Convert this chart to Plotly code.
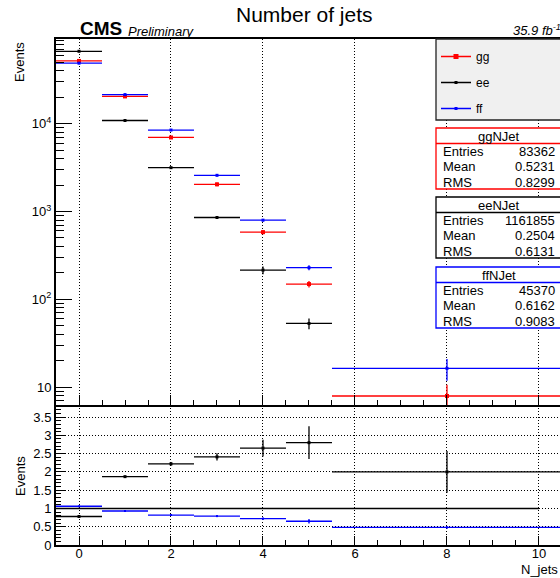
import plotly.graph_objects as go

# ---------------- data ----------------
centers = [0, 1, 2, 3, 4, 5, 8]
halfwidths = [0.5, 0.5, 0.5, 0.5, 0.5, 0.5, 2.5]

gg = [52000, 20500, 6980, 2040, 582, 149, 7.9]
gg_err = [600, 350, 200, 100, 30, 13, 2.7]
ee = [67000, 10900, 3160, 855, 215, 53, 3.9]
ee_err = [300, 120, 60, 30, 22, 7.5, 2.0]
ff = [49000, 21500, 8480, 2585, 797, 229, 16.3]
ff_err = [400, 250, 150, 70, 25, 15, 4.5]

ratio_ee = [0.78, 1.87, 2.22, 2.41, 2.65, 2.80, 2.00]
ratio_ee_err = [0.01, 0.02, 0.05, 0.10, 0.23, 0.45, 0.57]
ratio_ff = [1.06, 0.93, 0.82, 0.79, 0.72, 0.65, 0.48]
ratio_ff_err = [0.01, 0.01, 0.02, 0.02, 0.03, 0.06, 0.03]

series_names = ["gg", "ee", "ff"]
series_colors = ["#ff0000", "#000000", "#0000ff"]

stats = [
    ("ggNJet", "83362", "0.5231", "0.8299"),
    ("eeNJet", "1161855", "0.2504", "0.6131"),
    ("ffNJet", "45370", "0.6162", "0.9083"),
]
stat_border = ["#ff0000", "#000000", "#0000ff"]

top_ticks = [10, 100, 1000, 10000]
top_ticktext = ["10", "10<sup>2</sup>", "10<sup>3</sup>", "10<sup>4</sup>"]

# ---------------- geometry helpers ----------------
W, H = 560, 578
ML, MR, MT, MB = 56, 0, 39, 33
PW = W - ML - MR
PH = H - MT - MB


def px(x):
    return (x - ML) / PW


def py(y):
    return (H - MB - y) / PH


split = py(405)
FONT = "Liberation Sans, Arial, Helvetica, sans-serif"

fig = go.Figure()


def add_hist(x, y, ex, ey, color, symbol, size, xa, ya, name):
    fig.add_trace(go.Scatter(
        x=x, y=y, mode="markers", xaxis=xa, yaxis=ya, name=name,
        marker=dict(color=color, symbol=symbol, size=size, line=dict(width=0)),
        error_x=dict(type="data", array=ex, color=color, thickness=1.3, width=0),
        error_y=dict(type="data", array=ey, color=color, thickness=1.3, width=0),
        showlegend=False, hoverinfo="x+y"))


# top panel
add_hist(centers, ee, halfwidths, ee_err, series_colors[1], "square", 3, "x2", "y2", "ee")
add_hist(centers, gg, halfwidths, gg_err, series_colors[0], "square", 4, "x2", "y2", "gg")
add_hist(centers, ff, halfwidths, ff_err, series_colors[2], "square", 3, "x2", "y2", "ff")

# ratio panel
add_hist(centers, ratio_ff, halfwidths, ratio_ff_err, series_colors[2], "square", 2, "x", "y", "gg/ff")
add_hist(centers, ratio_ee, halfwidths, ratio_ee_err, series_colors[1], "square", 3, "x", "y", "gg/ee")

# legend entries
msizes = [5, 3, 3]
for nm, col, ms in zip(series_names, series_colors, msizes):
    fig.add_trace(go.Scatter(
        x=[None], y=[None], xaxis="x2", yaxis="y2", mode="lines+markers", name=nm,
        legendgroup=nm, line=dict(color=col, width=1.5),
        marker=dict(color=col, symbol="square", size=ms), showlegend=True))

axis_common = dict(
    showline=True, linecolor="black", linewidth=2,
    ticks="inside", tickcolor="black", tickwidth=1,
    zeroline=False, showgrid=True, gridcolor="black", gridwidth=1,
    griddash="1px,2px",
    tickfont=dict(family=FONT, size=13, color="black"),
)

fig.update_layout(
    width=W, height=H,
    margin=dict(l=ML, r=MR, t=MT, b=MB, pad=0),
    paper_bgcolor="white", plot_bgcolor="white",
    font=dict(family=FONT, color="black"),
    xaxis=dict(axis_common, domain=[0, 1], anchor="y", range=[-0.5, 10.457],
               tick0=0, dtick=2, ticklen=9, ticklabelstandoff=-5,
               minor=dict(dtick=0.5, ticklen=5, ticks="inside", tickcolor="black", showgrid=False)),
    yaxis=dict(axis_common, domain=[0, split], anchor="x", range=[0, 3.83],
               tick0=0, dtick=0.5, ticklen=9,
               minor=dict(dtick=0.1, ticklen=5, ticks="inside", tickcolor="black", showgrid=False)),
    xaxis2=dict(axis_common, domain=[0, 1], anchor="y2", matches="x", range=[-0.5, 10.457],
                tick0=0, dtick=2, ticklen=10, showticklabels=False, mirror=True,
                minor=dict(dtick=0.5, ticklen=5, ticks="inside", tickcolor="black", showgrid=False)),
    yaxis2=dict(axis_common, domain=[split, 1], anchor="x2", type="log",
                range=[0.795, 4.966], tickmode="array", tickvals=top_ticks,
                ticktext=top_ticktext, ticklen=16, showgrid=False,
                minor=dict(dtick="D1", ticklen=8, ticks="inside", tickcolor="black", showgrid=False)),
    legend=dict(x=px(436), y=py(42), xanchor="left", yanchor="top",
                bgcolor="rgba(0,0,0,0)", borderwidth=0,
                font=dict(family=FONT, size=12, color="black"),
                tracegroupgap=7, itemwidth=30, traceorder="grouped"),
)

shapes = []
# ratio reference line at 1
shapes.append(dict(type="line", xref="x", yref="y", x0=-0.5, x1=10, y0=1, y1=1,
                   line=dict(color="black", width=1.5), layer="above"))
# legend box
shapes.append(dict(type="rect", xref="paper", yref="paper",
                   x0=px(436), x1=px(600), y0=py(120), y1=py(39),
                   fillcolor="#f0f0f0", line=dict(color="#222222", width=1.3), layer="above"))

annotations = []
box_tops = [128, 197, 267]
for (title, ent, mean, rms), col, top in zip(stats, stat_border, box_tops):
    bottom = top + 61
    shapes.append(dict(type="rect", xref="paper", yref="paper",
                       x0=px(436), x1=px(562), y0=py(bottom), y1=py(top),
                       fillcolor="white", line=dict(color=col, width=1.3), layer="above"))
    shapes.append(dict(type="line", xref="paper", yref="paper",
                       x0=px(436), x1=px(562), y0=py(top + 15.5), y1=py(top + 15.5),
                       line=dict(color=col, width=1.3), layer="above"))
    annotations.append(dict(text=title, xref="paper", yref="paper", x=px(499), y=py(top + 8),
                            xanchor="center", yanchor="middle", showarrow=False,
                            font=dict(family=FONT, size=13, color="black")))
    for i, (lab, val) in enumerate([("Entries", ent), ("Mean", mean), ("RMS", rms)]):
        yy = top + 23 + 15.5 * i
        annotations.append(dict(text=lab, xref="paper", yref="paper", x=px(441), y=py(yy),
                                xanchor="left", yanchor="middle", showarrow=False,
                                font=dict(family=FONT, size=13, color="black")))
        annotations.append(dict(text=val, xref="paper", yref="paper", x=px(557), y=py(yy),
                                xanchor="right", yanchor="middle", showarrow=False,
                                font=dict(family=FONT, size=13, color="black")))

# titles and labels
annotations += [
    dict(text="Number of jets", xref="paper", yref="paper", x=px(304), y=py(14),
         xanchor="center", yanchor="middle", showarrow=False,
         font=dict(family=FONT, size=21, color="black")),
    dict(text="<b>CMS</b>", xref="paper", yref="paper", x=px(78), y=py(29),
         xanchor="left", yanchor="middle", showarrow=False,
         font=dict(family=FONT, size=19, color="black")),
    dict(text="<i>Preliminary</i>", xref="paper", yref="paper", x=px(126), y=py(31),
         xanchor="left", yanchor="middle", showarrow=False,
         font=dict(family=FONT, size=13, color="black")),
    dict(text="<i>35.9 fb<sup>-1</sup></i>", xref="paper", yref="paper", x=px(511), y=py(30),
         xanchor="left", yanchor="middle", showarrow=False,
         font=dict(family=FONT, size=13, color="black")),
    dict(text="Events", xref="paper", yref="paper", x=px(20), y=py(62), textangle=-90,
         xanchor="center", yanchor="middle", showarrow=False,
         font=dict(family=FONT, size=13, color="black")),
    dict(text="Events", xref="paper", yref="paper", x=px(20), y=py(476), textangle=-90,
         xanchor="center", yanchor="middle", showarrow=False,
         font=dict(family=FONT, size=13, color="black")),
    dict(text="N_jets", xref="paper", yref="paper", x=px(560), y=py(569),
         xanchor="right", yanchor="middle", showarrow=False,
         font=dict(family=FONT, size=13, color="black")),
]

fig.update_layout(shapes=shapes, annotations=annotations)
fig.write_html("out.html")
